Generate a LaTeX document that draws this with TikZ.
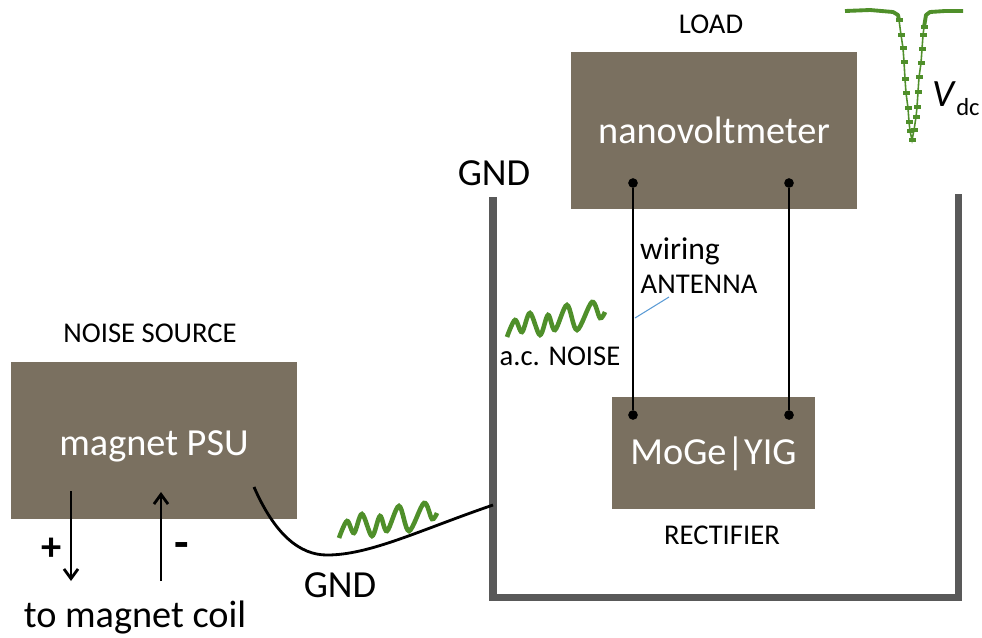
\documentclass[tikz,border=0pt]{standalone}
\usepackage{fontspec}
\setmainfont{Carlito}
\usepackage{tikz}
\usetikzlibrary{plotmarks,arrows.meta}
\definecolor{boxbrown}{HTML}{7A7060}
\definecolor{wallgrey}{HTML}{595959}
\definecolor{noisegreen}{HTML}{4F8F2A}
\definecolor{leaderblue}{HTML}{5B9BD5}
\tikzset{
         devicebox/.style={fill=boxbrown,text=white,inner sep=0pt,font=\fontsize{21.8}{22}\selectfont},
         smalllabel/.style={inner sep=0pt,font=\fontsize{16.3}{17}\selectfont},
         biglabel/.style={inner sep=0pt,font=\fontsize{21.8}{22}\selectfont},
         noisewave/.style={noisegreen,line width=2.6pt,smooth,tension=.55},
         wire/.style={line width=1.6pt},
         lead/.style={line width=1.6pt,-{Straight Barb[length=5.5pt,width=8pt]}},
         solderdot/.style={circle,fill=black,inner sep=0pt,minimum size=5.5pt}
        }
\newcommand{\noisewiggle}{plot coordinates{(507,337)(515,320)(522,332)(530,313)(540,335)(548,315)(555,330)(567,305)(577,330)(592,302)(600,318)(605,312)}}
\begin{document}
\begin{tikzpicture}[x=.02cm,y=-.02cm]
\useasboundingbox(0,0)rectangle(982,637);
\draw[wallgrey,line width=4pt](493,197)--(493,597)--(958,597)--(958,194); %shielded room
\node[devicebox,minimum width=286*.02cm,minimum height=157*.02cm](nanovolt)at(714,130.5){nanovoltmeter};
\node[devicebox,minimum width=286*.02cm,minimum height=157*.02cm,text height=16.5pt,text depth=0pt](psu)at(154,440.5){magnet PSU};
\node[devicebox,minimum width=203*.02cm,minimum height=112*.02cm,text height=12.6pt,text depth=0pt](sample)at(713.5,453){MoGe|YIG};
%wiring
\node[solderdot](topa)at(633,183){};
\node[solderdot](topb)at(789,183){};
\node[solderdot](bota)at(633,415){};
\node[solderdot](botb)at(789,415){};
\draw[wire](topa)--(bota);
\draw[wire](topb)--(botb);
\coordinate(leadfoot)at(635,318);
\coordinate(leadtop)at(669,297);
\draw[leaderblue,line width=.6pt](leadfoot)--(leadtop);
%ground lead
\coordinate(gndstart)at(254,487);
\coordinate(gndlow)at(327,555);
\coordinate(gndend)at(493,505);
\draw[wire](gndstart)..controls(275,535)and(300,555)..(gndlow)..controls(370,555)and(420,530)..(gndend);
%noise
\draw[noisewave]\noisewiggle;
\draw[noisewave,shift={(-168,201)}]\noisewiggle;
%psu leads
\coordinate(outa)at(71,491);
\coordinate(outb)at(71,581);
\coordinate(ina)at(161,581);
\coordinate(inb)at(161,492);
\draw[lead](outa)--(outb);
\draw[lead](ina)--(inb);
%dip
\draw[noisegreen,line width=.9pt,mark=square*,mark size=1.1pt,mark options={xscale=1.4,yscale=.8}]plot coordinates{(899,20)(901,35)(903,48)(904,62)(905,79)(906,93)(908,108)(909,122)(910,131)(912,140)(914,130)(916,117)(917,107)(918,92)(919,77)(921,63)(922,49)(923,35)(924,27)};
\draw[noisegreen,line width=2.2pt,line join=round]plot coordinates{(845,11)(870,10)(893,12)(898,15)(899,20)};
\draw[noisegreen,line width=2.2pt,line join=round]plot coordinates{(924,27)(926,15)(930,12)(945,11)(963,11)};
%labels
\node[smalllabel](loadlbl)at(711,24){LOAD};
\node[smalllabel](srclbl)at(150,333){NOISE SOURCE};
\node[smalllabel](rectlbl)at(722,535){RECTIFIER};
\node[smalllabel](noiselbl)at(560,356){a.c. NOISE};
\node[smalllabel,font=\fontsize{18}{18}\selectfont](wirelbl)at(680,251){wiring};
\node[smalllabel](antlbl)at(699,284){ANTENNA};
\node[biglabel](gnda)at(494,173){GND};
\node[biglabel](gndb)at(340,585){GND};
\node[biglabel](coillbl)at(135,617){to magnet coil};
\node[biglabel,font=\bfseries\fontsize{23}{23}\selectfont](pluslbl)at(52,549){+};
\node[biglabel,font=\bfseries\fontsize{27}{27}\selectfont](minuslbl)at(182,550){-};
\node[inner sep=0pt,font=\fontsize{22}{22}\selectfont](vlbl)at(956,99){\textit{V}\raisebox{-.5ex}{\fontsize{14}{14}\selectfont dc}};
\end{tikzpicture}
\end{document}
